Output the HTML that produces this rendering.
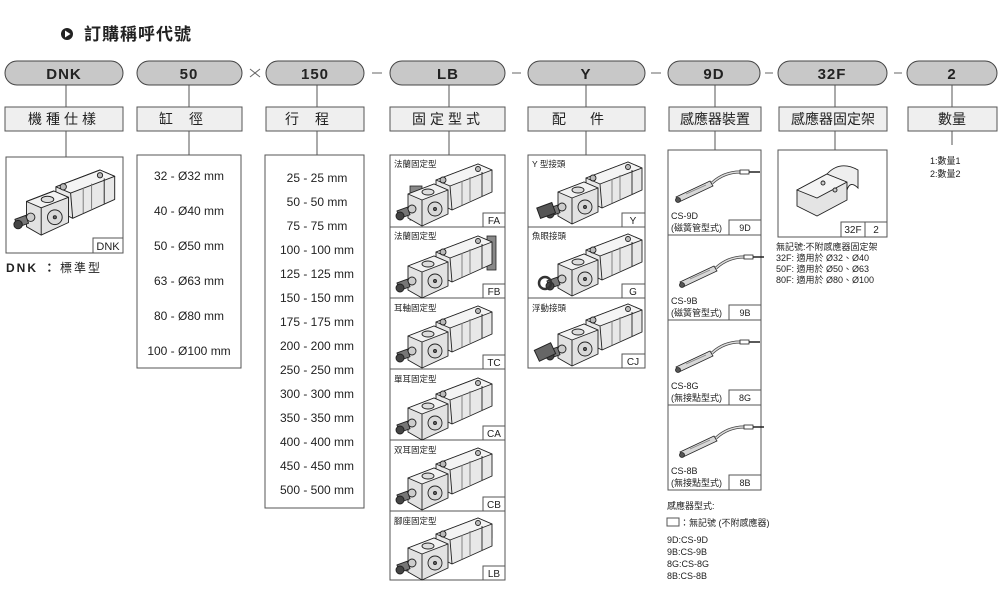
<!DOCTYPE html>
<html><head><meta charset="utf-8"><style>
html,body{margin:0;padding:0;background:#fff;}
svg{display:block;font-family:"Liberation Sans","Noto Sans CJK TC",sans-serif;}
</style></head><body>
<svg width="1000" height="592" viewBox="0 0 1000 592" xmlns="http://www.w3.org/2000/svg">
<defs>
<g id="cyl" stroke="#222" stroke-width="0.9" stroke-linejoin="round">
  <polygon points="38,16 80,0 94,6 94,28 54,46 38,38" fill="#e8e8e8"/>
  <polygon points="38,16 80,0 94,6 52,22" fill="#f4f4f4"/>
  <line x1="52" y1="22" x2="54" y2="46"/>
  <line x1="64" y1="17" x2="64" y2="41" stroke="#777"/>
  <line x1="72" y1="13" x2="72" y2="37" stroke="#777"/>
  <line x1="84" y1="8" x2="84" y2="32"/>
  <circle cx="80" cy="5" r="2.5" fill="#bbb"/>
  <circle cx="45" cy="16" r="3" fill="#bbb"/>
  <polygon points="10,30 36,20 50,26 50,50 24,62 10,54" fill="#e2e2e2"/>
  <polygon points="10,30 36,20 50,26 24,36" fill="#f2f2f2"/>
  <line x1="24" y1="36" x2="24" y2="62"/>
  <circle cx="37" cy="45" r="7" fill="#d8d8d8"/>
  <circle cx="37" cy="45" r="1.5" fill="#666"/>
  <ellipse cx="30" cy="28" rx="6" ry="3" fill="#ddd"/>
  <circle cx="14" cy="45" r="4" fill="#ccc"/>
  <rect x="0" y="45" width="11" height="8" fill="#777" transform="rotate(-20 5 49)"/>
  <circle cx="2" cy="52" r="4" fill="#444"/>
</g>
<g id="sens" stroke="#222" stroke-width="0.8" fill="#d8d8d8">
  <polygon points="0,32 34,16 37,21 3,37"/>
  <line x1="10" y1="29" x2="30" y2="20" stroke="#888"/>
  <circle cx="2" cy="35" r="2.5" fill="#555"/>
  <path d="M36,18 Q48,7 64,7" fill="none" stroke="#444" stroke-width="3"/>
  <path d="M36,18 Q48,7 64,7" fill="none" stroke="#ddd" stroke-width="1.5"/>
  <rect x="64" y="5" width="9" height="4" fill="#fff"/>
  <line x1="73" y1="7" x2="84" y2="7" stroke="#222" stroke-width="1.5"/>
</g>
</defs>

<circle cx="67" cy="34" r="6" fill="#222"/>
<polygon points="65,30.5 65,37.5 70.5,34" fill="#fff"/>
<text x="84" y="40" font-size="17" font-weight="bold" fill="#222" letter-spacing="1">訂購稱呼代號</text>

<g fill="#c8c8c8" stroke="#444" stroke-width="1">
<rect x="5" y="61" width="118" height="24" rx="12"/>
<rect x="137" y="61" width="105" height="24" rx="12"/>
<rect x="266" y="61" width="98" height="24" rx="12"/>
<rect x="390" y="61" width="115" height="24" rx="12"/>
<rect x="528" y="61" width="117" height="24" rx="12"/>
<rect x="668" y="61" width="92" height="24" rx="12"/>
<rect x="778" y="61" width="109" height="24" rx="12"/>
<rect x="907" y="61" width="90" height="24" rx="12"/>
</g>
<g font-size="15" font-weight="bold" fill="#222" text-anchor="middle" letter-spacing="1">
<text x="64" y="79">DNK</text><text x="189" y="79">50</text><text x="315" y="79">150</text>
<text x="448" y="79">LB</text><text x="586" y="79">Y</text><text x="714" y="79">9D</text>
<text x="832" y="79">32F</text><text x="952" y="79">2</text>
</g>
<g stroke="#666" stroke-width="1">
<line x1="250" y1="69" x2="260" y2="77"/><line x1="260" y1="69" x2="250" y2="77"/>
<line x1="372" y1="73" x2="382" y2="73"/><line x1="512" y1="73" x2="521" y2="73"/>
<line x1="651" y1="73" x2="661" y2="73"/><line x1="765" y1="73" x2="773" y2="73"/>
<line x1="894" y1="73" x2="902" y2="73"/>
</g>

<g stroke="#555" stroke-width="1">
<line x1="66" y1="85" x2="66" y2="157"/><line x1="189" y1="85" x2="189" y2="155"/>
<line x1="317" y1="85" x2="317" y2="155"/><line x1="449" y1="85" x2="449" y2="155"/>
<line x1="586" y1="85" x2="586" y2="155"/><line x1="715" y1="85" x2="715" y2="150"/>
<line x1="835" y1="85" x2="835" y2="150"/><line x1="952" y1="85" x2="952" y2="145"/>
</g>

<g fill="#efefef" stroke="#555" stroke-width="1">
<rect x="5" y="107" width="118" height="24"/><rect x="137" y="107" width="105" height="24"/>
<rect x="266" y="107" width="98" height="24"/><rect x="390" y="107" width="115" height="24"/>
<rect x="528" y="107" width="117" height="24"/><rect x="669" y="107" width="92" height="24"/>
<rect x="779" y="107" width="108" height="24"/><rect x="908" y="107" width="89" height="24"/>
</g>
<g font-size="14" fill="#222" text-anchor="middle">
<text x="64" y="124" letter-spacing="4">機種仕樣</text>
<text x="189" y="124" letter-spacing="16">缸徑</text>
<text x="315" y="124" letter-spacing="16">行程</text>
<text x="448" y="124" letter-spacing="4">固定型式</text>
<text x="590" y="124" letter-spacing="24">配件</text>
<text x="715" y="124">感應器裝置</text>
<text x="833" y="124">感應器固定架</text>
<text x="952" y="124">數量</text>
</g>

<rect x="6" y="157" width="117" height="96" fill="#fff" stroke="#555"/>
<use href="#cyl" transform="translate(16,170) scale(1.05)"/>
<rect x="93" y="238" width="30" height="15" fill="#fff" stroke="#555"/>
<text x="108" y="250" font-size="11" text-anchor="middle" fill="#222">DNK</text>
<text x="6" y="272" font-size="12" font-weight="bold" fill="#222" letter-spacing="2">DNK ：</text>
<text x="60" y="272" font-size="12" fill="#222" letter-spacing="2">標準型</text>

<rect x="137" y="155" width="104" height="213" fill="#fff" stroke="#555"/>
<g font-size="12" fill="#222" text-anchor="middle">
<text x="189" y="180">32 - Ø32 mm</text><text x="189" y="215">40 - Ø40 mm</text>
<text x="189" y="250">50 - Ø50 mm</text><text x="189" y="285">63 - Ø63 mm</text>
<text x="189" y="320">80 - Ø80 mm</text><text x="189" y="355">100 - Ø100 mm</text>
</g>

<rect x="265" y="155" width="99" height="353" fill="#fff" stroke="#555"/>
<g font-size="12" fill="#222" text-anchor="middle">
<text x="317" y="182">25 - 25 mm</text><text x="317" y="206">50 - 50 mm</text>
<text x="317" y="230">75 - 75 mm</text><text x="317" y="254">100 - 100 mm</text>
<text x="317" y="278">125 - 125 mm</text><text x="317" y="302">150 - 150 mm</text>
<text x="317" y="326">175 - 175 mm</text><text x="317" y="350">200 - 200 mm</text>
<text x="317" y="374">250 - 250 mm</text><text x="317" y="398">300 - 300 mm</text>
<text x="317" y="422">350 - 350 mm</text><text x="317" y="446">400 - 400 mm</text>
<text x="317" y="470">450 - 450 mm</text><text x="317" y="494">500 - 500 mm</text>
</g>

<g fill="#fff" stroke="#555">
<rect x="390" y="155" width="115" height="72"/><rect x="390" y="227" width="115" height="71"/>
<rect x="390" y="298" width="115" height="71"/><rect x="390" y="369" width="115" height="71"/>
<rect x="390" y="440" width="115" height="71"/><rect x="390" y="511" width="115" height="69"/>
</g>
<rect x="410" y="186" width="12" height="34" fill="#888" stroke="#222" stroke-width="0.8"/>
<rect x="487" y="236" width="9" height="34" fill="#888" stroke="#222" stroke-width="0.8"/>
<rect x="406" y="562" width="30" height="9" fill="#888" stroke="#222" stroke-width="0.8"/>
<rect x="470" y="530" width="22" height="8" fill="#888" stroke="#222" stroke-width="0.8"/>
<use href="#cyl" transform="translate(398,164)"/>
<use href="#cyl" transform="translate(398,236)"/>
<use href="#cyl" transform="translate(398,306)"/>
<use href="#cyl" transform="translate(398,378)"/>
<use href="#cyl" transform="translate(398,448)"/>
<use href="#cyl" transform="translate(398,518)"/>
<g fill="#fff" stroke="#555">
<rect x="483" y="213" width="22" height="14"/><rect x="483" y="284" width="22" height="14"/>
<rect x="483" y="355" width="22" height="14"/><rect x="483" y="426" width="22" height="14"/>
<rect x="483" y="497" width="22" height="14"/><rect x="483" y="566" width="22" height="14"/>
</g>
<g font-size="8.5" fill="#222">
<text x="394" y="167">法蘭固定型</text><text x="394" y="239">法蘭固定型</text>
<text x="394" y="311">耳軸固定型</text><text x="394" y="382">單耳固定型</text>
<text x="394" y="453">双耳固定型</text><text x="394" y="524">腳座固定型</text>
</g>
<g font-size="10" fill="#222" text-anchor="middle">
<text x="494" y="224">FA</text><text x="494" y="295">FB</text><text x="494" y="366">TC</text>
<text x="494" y="437">CA</text><text x="494" y="508">CB</text><text x="494" y="577">LB</text>
</g>

<g fill="#fff" stroke="#555">
<rect x="528" y="155" width="117" height="72"/><rect x="528" y="227" width="117" height="71"/>
<rect x="528" y="298" width="117" height="70"/>
</g>
<use href="#cyl" transform="translate(548,162)"/>
<use href="#cyl" transform="translate(548,234)"/>
<use href="#cyl" transform="translate(548,304)"/>
<rect x="538" y="205" width="16" height="11" fill="#555" stroke="#222" transform="rotate(-20 546 210)"/>
<circle cx="545" cy="283" r="6" fill="none" stroke="#333" stroke-width="2.5"/>
<rect x="536" y="346" width="18" height="12" fill="#666" stroke="#222" transform="rotate(-25 545 352)"/>
<g fill="#fff" stroke="#555">
<rect x="622" y="213" width="23" height="14"/><rect x="622" y="284" width="23" height="14"/>
<rect x="622" y="354" width="23" height="14"/>
</g>
<g font-size="8.5" fill="#222">
<text x="532" y="167">Y 型接頭</text><text x="532" y="239">魚眼接頭</text><text x="532" y="311">浮動接頭</text>
</g>
<g font-size="10" fill="#222" text-anchor="middle">
<text x="633" y="224">Y</text><text x="633" y="295">G</text><text x="633" y="365">CJ</text>
</g>

<g fill="#fff" stroke="#555">
<rect x="668" y="150" width="93" height="85"/><rect x="668" y="235" width="93" height="85"/>
<rect x="668" y="320" width="93" height="85"/><rect x="668" y="405" width="93" height="85"/>
<rect x="729" y="220" width="32" height="15"/><rect x="729" y="305" width="32" height="15"/>
<rect x="729" y="390" width="32" height="15"/><rect x="729" y="475" width="32" height="15"/>
</g>
<use href="#sens" transform="translate(676,165)"/>
<use href="#sens" transform="translate(680,250)"/>
<use href="#sens" transform="translate(676,335)"/>
<use href="#sens" transform="translate(680,420)"/>
<g font-size="9" fill="#222">
<text x="671" y="219">CS-9D</text><text x="671" y="231">(磁簧管型式)</text>
<text x="671" y="304">CS-9B</text><text x="671" y="316">(磁簧管型式)</text>
<text x="671" y="389">CS-8G</text><text x="671" y="401">(無接點型式)</text>
<text x="671" y="474">CS-8B</text><text x="671" y="486">(無接點型式)</text>
</g>
<g font-size="9" fill="#222" text-anchor="middle">
<text x="745" y="231">9D</text><text x="745" y="316">9B</text>
<text x="745" y="401">8G</text><text x="745" y="486">8B</text>
</g>
<g font-size="9" fill="#222">
<text x="667" y="509">感應器型式:</text>
<text x="680" y="526">：無記號 (不附感應器)</text>
<text x="667" y="543">9D:CS-9D</text><text x="667" y="555">9B:CS-9B</text>
<text x="667" y="567">8G:CS-8G</text><text x="667" y="579">8B:CS-8B</text>
</g>
<rect x="667" y="518" width="12" height="8" fill="#fff" stroke="#555"/>

<rect x="778" y="150" width="109" height="87" fill="#fff" stroke="#555"/>
<g stroke="#222" stroke-width="0.9" fill="#e4e4e4">
<polygon points="797,190 827,174 847,182 847,200 817,216 797,206"/>
<polygon points="797,190 827,174 847,182 817,198" fill="#f4f4f4"/>
<path d="M827,174 Q840,160 858,170 L858,188 Q850,180 847,190 L847,182 Z" fill="#eee"/>
<circle cx="823" cy="183" r="2" fill="#ccc"/>
<circle cx="835" cy="190" r="2" fill="#ccc"/>
</g>
<g fill="#fff" stroke="#555">
<rect x="841" y="222" width="24" height="15"/><rect x="865" y="222" width="22" height="15"/>
</g>
<g font-size="10" fill="#222" text-anchor="middle"><text x="853" y="233">32F</text><text x="876" y="233">2</text></g>
<g font-size="9" fill="#222">
<text x="776" y="250">無記號:不附感應器固定架</text>
<text x="776" y="261">32F: 適用於 Ø32、Ø40</text>
<text x="776" y="272">50F: 適用於 Ø50、Ø63</text>
<text x="776" y="283">80F: 適用於 Ø80、Ø100</text>
</g>

<g font-size="9" fill="#222"><text x="930" y="164">1:數量1</text><text x="930" y="177">2:數量2</text></g>
</svg>
</body></html>
